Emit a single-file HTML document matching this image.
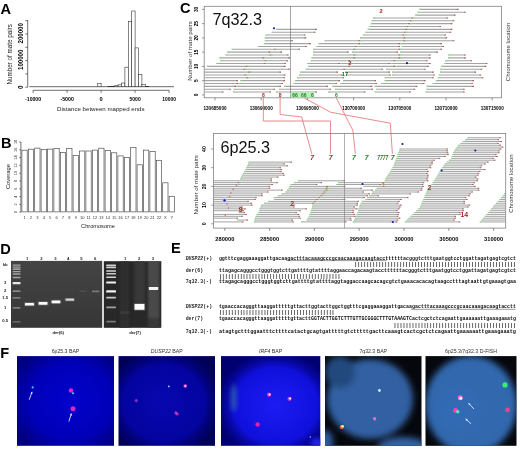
<!DOCTYPE html>
<html><head><meta charset="utf-8"><style>
html,body{margin:0;padding:0;background:#fff;width:520px;height:451px;overflow:hidden}
svg{display:block;filter:blur(0.3px)}
svg text{font-family:"Liberation Sans", sans-serif}
</style></head><body>
<svg width="520" height="451" viewBox="0 0 520 451">
<defs><filter id="b1" x="-50%" y="-50%" width="200%" height="200%"><feGaussianBlur stdDeviation="0.7"/></filter>
<filter id="b2" x="-50%" y="-50%" width="200%" height="200%"><feGaussianBlur stdDeviation="3.2"/></filter>
<filter id="b3" x="-50%" y="-50%" width="200%" height="200%"><feGaussianBlur stdDeviation="2"/></filter>
<radialGradient id="g1" cx="0.55" cy="0.5" r="0.65"><stop offset="0" stop-color="#0202cc"/><stop offset="0.65" stop-color="#0000b8"/><stop offset="1" stop-color="#00007c"/></radialGradient>
<radialGradient id="g2" cx="0.47" cy="0.52" r="0.6"><stop offset="0" stop-color="#0707b0"/><stop offset="0.7" stop-color="#0404a0"/><stop offset="0.8" stop-color="#020282"/><stop offset="1" stop-color="#000058"/></radialGradient>
<radialGradient id="g3" cx="0.55" cy="0.55" r="0.6"><stop offset="0" stop-color="#1c1cf4"/><stop offset="0.7" stop-color="#1010dc"/><stop offset="0.85" stop-color="#06069c"/><stop offset="1" stop-color="#000070"/></radialGradient></defs>
<rect width="520" height="451" fill="#fff"/>
<text x="0.50" y="13.80" font-size="14.6" text-anchor="start" font-weight="bold" font-style="normal" fill="#000" font-family='"Liberation Sans", sans-serif'>A</text>
<line x1="27.70" y1="20.00" x2="27.70" y2="87.20" stroke="#333" stroke-width="0.7"/>
<line x1="25.30" y1="87.20" x2="27.70" y2="87.20" stroke="#333" stroke-width="0.7"/>
<line x1="25.30" y1="73.90" x2="27.70" y2="73.90" stroke="#333" stroke-width="0.7"/>
<line x1="25.30" y1="60.60" x2="27.70" y2="60.60" stroke="#333" stroke-width="0.7"/>
<line x1="25.30" y1="47.30" x2="27.70" y2="47.30" stroke="#333" stroke-width="0.7"/>
<line x1="25.30" y1="34.00" x2="27.70" y2="34.00" stroke="#333" stroke-width="0.7"/>
<line x1="25.30" y1="20.70" x2="27.70" y2="20.70" stroke="#333" stroke-width="0.7"/>
<text transform="translate(22.60,87.20) rotate(-90)" font-size="6.3" text-anchor="middle" font-weight="bold" font-style="normal" fill="#000" font-family='"Liberation Sans", sans-serif'>0</text>
<text transform="translate(22.60,59.80) rotate(-90)" font-size="6.3" text-anchor="middle" font-weight="bold" font-style="normal" fill="#000" textLength="20.3" lengthAdjust="spacingAndGlyphs" font-family='"Liberation Sans", sans-serif'>100000</text>
<text transform="translate(22.60,33.30) rotate(-90)" font-size="6.3" text-anchor="middle" font-weight="bold" font-style="normal" fill="#000" textLength="20.3" lengthAdjust="spacingAndGlyphs" font-family='"Liberation Sans", sans-serif'>200000</text>
<text transform="translate(12.20,54.30) rotate(-90)" font-size="6.3" text-anchor="middle" font-weight="normal" font-style="normal" fill="#222" font-family='"Liberation Sans", sans-serif'>Number of mate pairs</text>
<line x1="29.40" y1="86.70" x2="174.00" y2="86.70" stroke="#444" stroke-width="0.8"/>
<rect x="97.70" y="83.60" width="3.40" height="3.10" fill="#fff" stroke="#333" stroke-width="0.6"/>
<rect x="101.10" y="86.80" width="3.40" height="-0.10" fill="#fff" stroke="#333" stroke-width="0.6"/>
<rect x="104.50" y="86.70" width="3.40" height="0.00" fill="#fff" stroke="#333" stroke-width="0.6"/>
<rect x="107.90" y="86.50" width="3.40" height="0.20" fill="#fff" stroke="#333" stroke-width="0.6"/>
<rect x="111.30" y="86.20" width="3.40" height="0.50" fill="#fff" stroke="#333" stroke-width="0.6"/>
<rect x="114.70" y="85.70" width="3.40" height="1.00" fill="#fff" stroke="#333" stroke-width="0.6"/>
<rect x="118.10" y="84.80" width="3.40" height="1.90" fill="#fff" stroke="#333" stroke-width="0.6"/>
<rect x="121.50" y="83.00" width="3.40" height="3.70" fill="#fff" stroke="#333" stroke-width="0.6"/>
<rect x="124.90" y="67.20" width="3.40" height="19.50" fill="#fff" stroke="#333" stroke-width="0.6"/>
<rect x="128.30" y="21.40" width="3.40" height="65.30" fill="#fff" stroke="#333" stroke-width="0.6"/>
<rect x="131.70" y="11.00" width="3.40" height="75.70" fill="#fff" stroke="#333" stroke-width="0.6"/>
<rect x="135.10" y="47.90" width="3.40" height="38.80" fill="#fff" stroke="#333" stroke-width="0.6"/>
<rect x="138.50" y="74.40" width="3.40" height="12.30" fill="#fff" stroke="#333" stroke-width="0.6"/>
<rect x="141.90" y="84.40" width="3.40" height="2.30" fill="#fff" stroke="#333" stroke-width="0.6"/>
<rect x="145.30" y="86.40" width="3.40" height="0.30" fill="#fff" stroke="#333" stroke-width="0.6"/>
<line x1="33.10" y1="90.30" x2="169.10" y2="90.30" stroke="#333" stroke-width="0.7"/>
<line x1="33.10" y1="90.30" x2="33.10" y2="92.80" stroke="#333" stroke-width="0.7"/>
<text x="33.10" y="101.40" font-size="5.7" text-anchor="middle" font-weight="bold" font-style="normal" fill="#000" textLength="16.0" lengthAdjust="spacingAndGlyphs" font-family='"Liberation Sans", sans-serif'>-10000</text>
<line x1="67.10" y1="90.30" x2="67.10" y2="92.80" stroke="#333" stroke-width="0.7"/>
<text x="67.10" y="101.40" font-size="5.7" text-anchor="middle" font-weight="bold" font-style="normal" fill="#000" textLength="13.4" lengthAdjust="spacingAndGlyphs" font-family='"Liberation Sans", sans-serif'>-5000</text>
<line x1="101.10" y1="90.30" x2="101.10" y2="92.80" stroke="#333" stroke-width="0.7"/>
<text x="101.10" y="101.40" font-size="5.7" text-anchor="middle" font-weight="bold" font-style="normal" fill="#000" font-family='"Liberation Sans", sans-serif'>0</text>
<line x1="135.10" y1="90.30" x2="135.10" y2="92.80" stroke="#333" stroke-width="0.7"/>
<text x="135.10" y="101.40" font-size="5.7" text-anchor="middle" font-weight="bold" font-style="normal" fill="#000" textLength="11.2" lengthAdjust="spacingAndGlyphs" font-family='"Liberation Sans", sans-serif'>5000</text>
<line x1="169.10" y1="90.30" x2="169.10" y2="92.80" stroke="#333" stroke-width="0.7"/>
<text x="169.10" y="101.40" font-size="5.7" text-anchor="middle" font-weight="bold" font-style="normal" fill="#000" textLength="13.6" lengthAdjust="spacingAndGlyphs" font-family='"Liberation Sans", sans-serif'>10000</text>
<text x="100.80" y="110.90" font-size="6.13" text-anchor="middle" font-weight="normal" font-style="normal" fill="#222" font-family='"Liberation Sans", sans-serif'>Distance between mapped ends</text>
<text x="0.90" y="147.80" font-size="14.6" text-anchor="start" font-weight="bold" font-style="normal" fill="#000" font-family='"Liberation Sans", sans-serif'>B</text>
<line x1="20.90" y1="142.00" x2="20.90" y2="212.20" stroke="#333" stroke-width="0.7"/>
<line x1="19.20" y1="212.20" x2="20.90" y2="212.20" stroke="#333" stroke-width="0.6"/>
<text transform="translate(17.30,212.20) rotate(-90)" font-size="3.8" text-anchor="middle" font-weight="normal" font-style="normal" fill="#333" font-family='"Liberation Sans", sans-serif'>0</text>
<line x1="19.20" y1="204.40" x2="20.90" y2="204.40" stroke="#333" stroke-width="0.6"/>
<text transform="translate(17.30,204.40) rotate(-90)" font-size="3.8" text-anchor="middle" font-weight="normal" font-style="normal" fill="#333" font-family='"Liberation Sans", sans-serif'>2</text>
<line x1="19.20" y1="196.60" x2="20.90" y2="196.60" stroke="#333" stroke-width="0.6"/>
<text transform="translate(17.30,196.60) rotate(-90)" font-size="3.8" text-anchor="middle" font-weight="normal" font-style="normal" fill="#333" font-family='"Liberation Sans", sans-serif'>4</text>
<line x1="19.20" y1="188.80" x2="20.90" y2="188.80" stroke="#333" stroke-width="0.6"/>
<text transform="translate(17.30,188.80) rotate(-90)" font-size="3.8" text-anchor="middle" font-weight="normal" font-style="normal" fill="#333" font-family='"Liberation Sans", sans-serif'>6</text>
<line x1="19.20" y1="181.00" x2="20.90" y2="181.00" stroke="#333" stroke-width="0.6"/>
<text transform="translate(17.30,181.00) rotate(-90)" font-size="3.8" text-anchor="middle" font-weight="normal" font-style="normal" fill="#333" font-family='"Liberation Sans", sans-serif'>8</text>
<line x1="19.20" y1="173.20" x2="20.90" y2="173.20" stroke="#333" stroke-width="0.6"/>
<text transform="translate(17.30,173.20) rotate(-90)" font-size="3.8" text-anchor="middle" font-weight="normal" font-style="normal" fill="#333" font-family='"Liberation Sans", sans-serif'>10</text>
<line x1="19.20" y1="165.40" x2="20.90" y2="165.40" stroke="#333" stroke-width="0.6"/>
<text transform="translate(17.30,165.40) rotate(-90)" font-size="3.8" text-anchor="middle" font-weight="normal" font-style="normal" fill="#333" font-family='"Liberation Sans", sans-serif'>12</text>
<line x1="19.20" y1="157.60" x2="20.90" y2="157.60" stroke="#333" stroke-width="0.6"/>
<text transform="translate(17.30,157.60) rotate(-90)" font-size="3.8" text-anchor="middle" font-weight="normal" font-style="normal" fill="#333" font-family='"Liberation Sans", sans-serif'>14</text>
<line x1="19.20" y1="149.80" x2="20.90" y2="149.80" stroke="#333" stroke-width="0.6"/>
<text transform="translate(17.30,149.80) rotate(-90)" font-size="3.8" text-anchor="middle" font-weight="normal" font-style="normal" fill="#333" font-family='"Liberation Sans", sans-serif'>16</text>
<line x1="19.20" y1="142.00" x2="20.90" y2="142.00" stroke="#333" stroke-width="0.6"/>
<text transform="translate(17.30,142.00) rotate(-90)" font-size="3.8" text-anchor="middle" font-weight="normal" font-style="normal" fill="#333" font-family='"Liberation Sans", sans-serif'>18</text>
<text transform="translate(9.60,176.60) rotate(-90)" font-size="5.77" text-anchor="middle" font-weight="normal" font-style="normal" fill="#222" font-family='"Liberation Sans", sans-serif'>Coverage</text>
<rect x="21.90" y="150.20" width="5.30" height="61.70" fill="#fff" stroke="#444" stroke-width="0.65"/>
<text x="24.55" y="219.40" font-size="4.0" text-anchor="middle" font-weight="normal" font-style="normal" fill="#333" font-family='"Liberation Sans", sans-serif'>1</text>
<rect x="28.30" y="149.20" width="5.30" height="62.70" fill="#fff" stroke="#444" stroke-width="0.65"/>
<text x="30.95" y="219.40" font-size="4.0" text-anchor="middle" font-weight="normal" font-style="normal" fill="#333" font-family='"Liberation Sans", sans-serif'>2</text>
<rect x="34.70" y="148.10" width="5.30" height="63.80" fill="#fff" stroke="#444" stroke-width="0.65"/>
<text x="37.35" y="219.40" font-size="4.0" text-anchor="middle" font-weight="normal" font-style="normal" fill="#333" font-family='"Liberation Sans", sans-serif'>3</text>
<rect x="41.10" y="149.40" width="5.30" height="62.50" fill="#fff" stroke="#444" stroke-width="0.65"/>
<text x="43.75" y="219.40" font-size="4.0" text-anchor="middle" font-weight="normal" font-style="normal" fill="#333" font-family='"Liberation Sans", sans-serif'>4</text>
<rect x="47.50" y="149.10" width="5.30" height="62.80" fill="#fff" stroke="#444" stroke-width="0.65"/>
<text x="50.15" y="219.40" font-size="4.0" text-anchor="middle" font-weight="normal" font-style="normal" fill="#333" font-family='"Liberation Sans", sans-serif'>5</text>
<rect x="53.90" y="148.50" width="5.30" height="63.40" fill="#fff" stroke="#444" stroke-width="0.65"/>
<text x="56.55" y="219.40" font-size="4.0" text-anchor="middle" font-weight="normal" font-style="normal" fill="#333" font-family='"Liberation Sans", sans-serif'>6</text>
<rect x="60.30" y="152.50" width="5.30" height="59.40" fill="#fff" stroke="#444" stroke-width="0.65"/>
<text x="62.95" y="219.40" font-size="4.0" text-anchor="middle" font-weight="normal" font-style="normal" fill="#333" font-family='"Liberation Sans", sans-serif'>7</text>
<rect x="66.70" y="148.50" width="5.30" height="63.40" fill="#fff" stroke="#444" stroke-width="0.65"/>
<text x="69.35" y="219.40" font-size="4.0" text-anchor="middle" font-weight="normal" font-style="normal" fill="#333" font-family='"Liberation Sans", sans-serif'>8</text>
<rect x="73.10" y="155.40" width="5.30" height="56.50" fill="#fff" stroke="#444" stroke-width="0.65"/>
<text x="75.75" y="219.40" font-size="4.0" text-anchor="middle" font-weight="normal" font-style="normal" fill="#333" font-family='"Liberation Sans", sans-serif'>9</text>
<rect x="79.50" y="151.00" width="5.30" height="60.90" fill="#fff" stroke="#444" stroke-width="0.65"/>
<text x="82.15" y="219.40" font-size="4.0" text-anchor="middle" font-weight="normal" font-style="normal" fill="#333" font-family='"Liberation Sans", sans-serif'>10</text>
<rect x="85.90" y="151.00" width="5.30" height="60.90" fill="#fff" stroke="#444" stroke-width="0.65"/>
<text x="88.55" y="219.40" font-size="4.0" text-anchor="middle" font-weight="normal" font-style="normal" fill="#333" font-family='"Liberation Sans", sans-serif'>11</text>
<rect x="92.30" y="150.10" width="5.30" height="61.80" fill="#fff" stroke="#444" stroke-width="0.65"/>
<text x="94.95" y="219.40" font-size="4.0" text-anchor="middle" font-weight="normal" font-style="normal" fill="#333" font-family='"Liberation Sans", sans-serif'>12</text>
<rect x="98.70" y="148.20" width="5.30" height="63.70" fill="#fff" stroke="#444" stroke-width="0.65"/>
<text x="101.35" y="219.40" font-size="4.0" text-anchor="middle" font-weight="normal" font-style="normal" fill="#333" font-family='"Liberation Sans", sans-serif'>13</text>
<rect x="105.10" y="150.40" width="5.30" height="61.50" fill="#fff" stroke="#444" stroke-width="0.65"/>
<text x="107.75" y="219.40" font-size="4.0" text-anchor="middle" font-weight="normal" font-style="normal" fill="#333" font-family='"Liberation Sans", sans-serif'>14</text>
<rect x="111.50" y="152.80" width="5.30" height="59.10" fill="#fff" stroke="#444" stroke-width="0.65"/>
<text x="114.15" y="219.40" font-size="4.0" text-anchor="middle" font-weight="normal" font-style="normal" fill="#333" font-family='"Liberation Sans", sans-serif'>15</text>
<rect x="117.90" y="155.90" width="5.30" height="56.00" fill="#fff" stroke="#444" stroke-width="0.65"/>
<text x="120.55" y="219.40" font-size="4.0" text-anchor="middle" font-weight="normal" font-style="normal" fill="#333" font-family='"Liberation Sans", sans-serif'>16</text>
<rect x="124.30" y="157.40" width="5.30" height="54.50" fill="#fff" stroke="#444" stroke-width="0.65"/>
<text x="126.95" y="219.40" font-size="4.0" text-anchor="middle" font-weight="normal" font-style="normal" fill="#333" font-family='"Liberation Sans", sans-serif'>17</text>
<rect x="130.70" y="147.40" width="5.30" height="64.50" fill="#fff" stroke="#444" stroke-width="0.65"/>
<text x="133.35" y="219.40" font-size="4.0" text-anchor="middle" font-weight="normal" font-style="normal" fill="#333" font-family='"Liberation Sans", sans-serif'>18</text>
<rect x="137.10" y="164.80" width="5.30" height="47.10" fill="#fff" stroke="#444" stroke-width="0.65"/>
<text x="139.75" y="219.40" font-size="4.0" text-anchor="middle" font-weight="normal" font-style="normal" fill="#333" font-family='"Liberation Sans", sans-serif'>19</text>
<rect x="143.50" y="150.10" width="5.30" height="61.80" fill="#fff" stroke="#444" stroke-width="0.65"/>
<text x="146.15" y="219.40" font-size="4.0" text-anchor="middle" font-weight="normal" font-style="normal" fill="#333" font-family='"Liberation Sans", sans-serif'>20</text>
<rect x="149.90" y="151.60" width="5.30" height="60.30" fill="#fff" stroke="#444" stroke-width="0.65"/>
<text x="152.55" y="219.40" font-size="4.0" text-anchor="middle" font-weight="normal" font-style="normal" fill="#333" font-family='"Liberation Sans", sans-serif'>21</text>
<rect x="156.30" y="160.30" width="5.30" height="51.60" fill="#fff" stroke="#444" stroke-width="0.65"/>
<text x="158.95" y="219.40" font-size="4.0" text-anchor="middle" font-weight="normal" font-style="normal" fill="#333" font-family='"Liberation Sans", sans-serif'>22</text>
<rect x="162.70" y="182.80" width="5.30" height="29.10" fill="#fff" stroke="#444" stroke-width="0.65"/>
<text x="165.35" y="219.40" font-size="4.0" text-anchor="middle" font-weight="normal" font-style="normal" fill="#333" font-family='"Liberation Sans", sans-serif'>X</text>
<rect x="169.10" y="196.30" width="5.30" height="15.60" fill="#fff" stroke="#444" stroke-width="0.65"/>
<text x="171.75" y="219.40" font-size="4.0" text-anchor="middle" font-weight="normal" font-style="normal" fill="#333" font-family='"Liberation Sans", sans-serif'>Y</text>
<text x="98.00" y="227.80" font-size="5.65" text-anchor="middle" font-weight="normal" font-style="normal" fill="#222" font-family='"Liberation Sans", sans-serif'>Chromosome</text>
<path d="M205.0 92.05H223.5M233.0 92.05H271.0M276.0 92.05H317.0M328.0 92.05H365.4M374.6 92.05H410.8M425.5 92.05H464.6M204.6 89.20H230.7M233.6 89.20H275.0M279.0 89.20H331.0M335.0 89.20H373.0M376.0 89.20H415.2M426.5 89.20H464.6M204.6 86.35H236.0M236.0 86.35H281.0M284.0 86.35H328.0M332.4 86.35H372.3M374.6 86.35H417.2M426.5 86.35H473.9M204.6 83.50H238.0M238.0 83.50H283.0M293.4 83.50H337.0M340.0 83.50H377.0M380.8 83.50H424.4M432.7 83.50H472.9M204.6 80.65H238.0M240.0 80.65H285.0M294.9 80.65H340.0M343.0 80.65H376.0M384.6 80.65H425.5M435.8 80.65H473.9M204.6 77.80H248.0M248.0 77.80H285.0M297.0 77.80H344.0M384.6 77.80H433.7M437.8 77.80H483.2M204.6 74.95H246.0M246.0 74.95H285.5M299.0 74.95H342.5M346.0 74.95H390.8M392.0 74.95H434.7M438.9 74.95H481.1M204.6 72.10H250.0M250.0 72.10H281.0M300.0 72.10H338.0M345.0 72.10H390.0M392.0 72.10H433.7M440.0 72.10H476.0M204.6 69.25H245.0M245.0 69.25H289.8M305.7 69.25H345.0M345.0 69.25H383.0M386.0 69.25H425.5M440.0 69.25H482.2M207.0 66.40H247.3M247.3 66.40H285.5M308.0 66.40H350.0M350.0 66.40H395.0M395.0 66.40H428.6M441.0 66.40H486.3M216.0 63.55H265.5M265.5 63.55H286.0M307.0 63.55H340.0M340.0 63.55H390.0M390.0 63.55H430.6M444.0 63.55H487.3M220.0 60.70H266.3M266.3 60.70H288.0M310.8 60.70H350.0M350.0 60.70H395.0M395.0 60.70H427.5M445.0 60.70H471.9M219.4 57.85H264.0M264.0 57.85H290.0M311.5 57.85H355.0M355.0 57.85H400.0M400.0 57.85H430.6M448.1 57.85H465.7M225.5 55.00H271.0M271.0 55.00H288.5M313.0 55.00H355.0M355.0 55.00H400.0M400.0 55.00H430.6M448.1 55.00H465.7M227.0 52.15H270.0M270.0 52.15H282.0M313.0 52.15H348.5M352.0 52.15H398.0M400.0 52.15H437.8M231.7 49.30H275.5M275.5 49.30H300.0M313.0 49.30H355.0M355.0 49.30H400.0M400.0 49.30H442.0M257.8 46.45H306.9M316.0 46.45H357.0M357.0 46.45H400.0M401.5 46.45H444.0M264.0 43.60H310.8M318.5 43.60H360.0M360.0 43.60H400.0M400.0 43.60H442.0M264.8 40.75H293.0M324.6 40.75H360.0M360.0 40.75H405.0M405.0 40.75H454.3M264.8 37.90H306.2M360.0 37.90H405.0M405.0 37.90H447.1M265.5 35.05H305.4M363.0 35.05H404.1M404.1 35.05H446.0M271.7 32.20H315.4M365.4 32.20H405.5M405.5 32.20H451.2M276.0 29.35H316.9M367.7 29.35H407.0M407.0 29.35H452.3M369.2 26.50H408.4M408.4 26.50H441.0M370.8 23.65H409.9M409.9 23.65H452.3M371.5 20.80H411.3M411.3 20.80H454.3M373.0 17.95H412.8M412.8 17.95H448.1M415.2 15.10H455.4M417.2 12.25H465.7M419.3 9.40H458.5" stroke="#a4a4a4" stroke-width="1.1" fill="none"/>
<path d="M233.0 92.05h1.8M276.0 92.05h1.8M328.0 92.05h1.8M374.6 92.05h1.8M425.5 92.05h1.8M233.6 89.20h1.8M279.0 89.20h1.8M335.0 89.20h1.8M376.0 89.20h1.8M426.5 89.20h1.8M236.0 86.35h1.8M284.0 86.35h1.8M332.4 86.35h1.8M374.6 86.35h1.8M426.5 86.35h1.8M238.0 83.50h1.8M293.4 83.50h1.8M340.0 83.50h1.8M380.8 83.50h1.8M432.7 83.50h1.8M240.0 80.65h1.8M294.9 80.65h1.8M343.0 80.65h1.8M384.6 80.65h1.8M435.8 80.65h1.8M248.0 77.80h1.8M297.0 77.80h1.8M384.6 77.80h1.8M437.8 77.80h1.8M246.0 74.95h1.8M299.0 74.95h1.8M346.0 74.95h1.8M392.0 74.95h1.8M438.9 74.95h1.8M250.0 72.10h1.8M300.0 72.10h1.8M345.0 72.10h1.8M392.0 72.10h1.8M440.0 72.10h1.8M245.0 69.25h1.8M305.7 69.25h1.8M345.0 69.25h1.8M386.0 69.25h1.8M440.0 69.25h1.8M207.0 66.40h1.8M247.3 66.40h1.8M308.0 66.40h1.8M350.0 66.40h1.8M395.0 66.40h1.8M441.0 66.40h1.8M216.0 63.55h1.8M265.5 63.55h1.8M307.0 63.55h1.8M340.0 63.55h1.8M390.0 63.55h1.8M444.0 63.55h1.8M220.0 60.70h1.8M266.3 60.70h1.8M310.8 60.70h1.8M350.0 60.70h1.8M395.0 60.70h1.8M445.0 60.70h1.8M219.4 57.85h1.8M264.0 57.85h1.8M311.5 57.85h1.8M355.0 57.85h1.8M400.0 57.85h1.8M448.1 57.85h1.8M225.5 55.00h1.8M271.0 55.00h1.8M313.0 55.00h1.8M355.0 55.00h1.8M400.0 55.00h1.8M448.1 55.00h1.8M227.0 52.15h1.8M270.0 52.15h1.8M313.0 52.15h1.8M352.0 52.15h1.8M400.0 52.15h1.8M231.7 49.30h1.8M275.5 49.30h1.8M313.0 49.30h1.8M355.0 49.30h1.8M400.0 49.30h1.8M257.8 46.45h1.8M316.0 46.45h1.8M357.0 46.45h1.8M401.5 46.45h1.8M264.0 43.60h1.8M318.5 43.60h1.8M360.0 43.60h1.8M400.0 43.60h1.8M264.8 40.75h1.8M324.6 40.75h1.8M360.0 40.75h1.8M405.0 40.75h1.8M264.8 37.90h1.8M360.0 37.90h1.8M405.0 37.90h1.8M265.5 35.05h1.8M363.0 35.05h1.8M404.1 35.05h1.8M271.7 32.20h1.8M365.4 32.20h1.8M405.5 32.20h1.8M276.0 29.35h1.8M367.7 29.35h1.8M407.0 29.35h1.8M369.2 26.50h1.8M408.4 26.50h1.8M370.8 23.65h1.8M409.9 23.65h1.8M371.5 20.80h1.8M411.3 20.80h1.8M373.0 17.95h1.8M412.8 17.95h1.8M415.2 15.10h1.8M417.2 12.25h1.8M419.3 9.40h1.8" stroke="#90e090" stroke-width="1.1" fill="none" opacity="0.75"/>
<path d="M221.9 92.05h1.6M269.4 92.05h1.6M315.4 92.05h1.6M363.8 92.05h1.6M409.2 92.05h1.6M463.0 92.05h1.6M229.1 89.20h1.6M273.4 89.20h1.6M329.4 89.20h1.6M371.4 89.20h1.6M413.6 89.20h1.6M463.0 89.20h1.6M234.4 86.35h1.6M279.4 86.35h1.6M326.4 86.35h1.6M370.7 86.35h1.6M415.6 86.35h1.6M472.3 86.35h1.6M236.4 83.50h1.6M281.4 83.50h1.6M335.4 83.50h1.6M375.4 83.50h1.6M422.8 83.50h1.6M471.3 83.50h1.6M236.4 80.65h1.6M283.4 80.65h1.6M338.4 80.65h1.6M374.4 80.65h1.6M423.9 80.65h1.6M472.3 80.65h1.6M246.4 77.80h1.6M283.4 77.80h1.6M342.4 77.80h1.6M432.1 77.80h1.6M481.6 77.80h1.6M244.4 74.95h1.6M283.9 74.95h1.6M340.9 74.95h1.6M389.2 74.95h1.6M433.1 74.95h1.6M479.5 74.95h1.6M248.4 72.10h1.6M279.4 72.10h1.6M336.4 72.10h1.6M388.4 72.10h1.6M432.1 72.10h1.6M474.4 72.10h1.6M243.4 69.25h1.6M288.2 69.25h1.6M343.4 69.25h1.6M381.4 69.25h1.6M423.9 69.25h1.6M480.6 69.25h1.6M245.7 66.40h1.6M283.9 66.40h1.6M348.4 66.40h1.6M393.4 66.40h1.6M427.0 66.40h1.6M484.7 66.40h1.6M263.9 63.55h1.6M284.4 63.55h1.6M338.4 63.55h1.6M388.4 63.55h1.6M429.0 63.55h1.6M485.7 63.55h1.6M264.7 60.70h1.6M286.4 60.70h1.6M348.4 60.70h1.6M393.4 60.70h1.6M425.9 60.70h1.6M470.3 60.70h1.6M262.4 57.85h1.6M288.4 57.85h1.6M353.4 57.85h1.6M398.4 57.85h1.6M429.0 57.85h1.6M464.1 57.85h1.6M269.4 55.00h1.6M286.9 55.00h1.6M353.4 55.00h1.6M398.4 55.00h1.6M429.0 55.00h1.6M464.1 55.00h1.6M268.4 52.15h1.6M280.4 52.15h1.6M346.9 52.15h1.6M396.4 52.15h1.6M436.2 52.15h1.6M273.9 49.30h1.6M298.4 49.30h1.6M353.4 49.30h1.6M398.4 49.30h1.6M440.4 49.30h1.6M305.3 46.45h1.6M355.4 46.45h1.6M398.4 46.45h1.6M442.4 46.45h1.6M309.2 43.60h1.6M358.4 43.60h1.6M398.4 43.60h1.6M440.4 43.60h1.6M291.4 40.75h1.6M358.4 40.75h1.6M403.4 40.75h1.6M452.7 40.75h1.6M304.6 37.90h1.6M403.4 37.90h1.6M445.5 37.90h1.6M303.8 35.05h1.6M402.5 35.05h1.6M444.4 35.05h1.6M313.8 32.20h1.6M403.9 32.20h1.6M449.6 32.20h1.6M315.3 29.35h1.6M405.4 29.35h1.6M450.7 29.35h1.6M406.8 26.50h1.6M439.4 26.50h1.6M408.3 23.65h1.6M450.7 23.65h1.6M409.7 20.80h1.6M452.7 20.80h1.6M411.2 17.95h1.6M446.5 17.95h1.6M453.8 15.10h1.6M464.1 12.25h1.6M456.9 9.40h1.6" stroke="#a83030" stroke-width="1.1" fill="none" opacity="0.6"/>
<rect x="204.20" y="6.30" width="297.40" height="91.50" fill="none" stroke="#808080" stroke-width="0.8"/>
<line x1="290.50" y1="6.30" x2="290.50" y2="97.80" stroke="#6a6a6a" stroke-width="0.6"/>
<line x1="202.00" y1="94.90" x2="204.20" y2="94.90" stroke="#555" stroke-width="0.6"/>
<text transform="translate(197.50,94.90) rotate(-90)" font-size="4.8" text-anchor="middle" font-weight="bold" font-style="normal" fill="#000">0</text>
<line x1="202.00" y1="80.65" x2="204.20" y2="80.65" stroke="#555" stroke-width="0.6"/>
<text transform="translate(197.50,80.65) rotate(-90)" font-size="4.8" text-anchor="middle" font-weight="bold" font-style="normal" fill="#000">5</text>
<line x1="202.00" y1="66.40" x2="204.20" y2="66.40" stroke="#555" stroke-width="0.6"/>
<text transform="translate(197.50,66.40) rotate(-90)" font-size="4.8" text-anchor="middle" font-weight="bold" font-style="normal" fill="#000">10</text>
<line x1="202.00" y1="52.15" x2="204.20" y2="52.15" stroke="#555" stroke-width="0.6"/>
<text transform="translate(197.50,52.15) rotate(-90)" font-size="4.8" text-anchor="middle" font-weight="bold" font-style="normal" fill="#000">15</text>
<line x1="202.00" y1="37.90" x2="204.20" y2="37.90" stroke="#555" stroke-width="0.6"/>
<text transform="translate(197.50,37.90) rotate(-90)" font-size="4.8" text-anchor="middle" font-weight="bold" font-style="normal" fill="#000">20</text>
<line x1="202.00" y1="23.65" x2="204.20" y2="23.65" stroke="#555" stroke-width="0.6"/>
<text transform="translate(197.50,23.65) rotate(-90)" font-size="4.8" text-anchor="middle" font-weight="bold" font-style="normal" fill="#000">25</text>
<line x1="202.00" y1="9.40" x2="204.20" y2="9.40" stroke="#555" stroke-width="0.6"/>
<text transform="translate(197.50,9.40) rotate(-90)" font-size="4.8" text-anchor="middle" font-weight="bold" font-style="normal" fill="#000">30</text>
<text transform="translate(191.70,51.00) rotate(-90)" font-size="6.2" text-anchor="middle" font-weight="normal" font-style="normal" fill="#333">Number of mate pairs</text>
<line x1="215.00" y1="97.80" x2="215.00" y2="100.40" stroke="#555" stroke-width="0.6"/>
<text x="215.00" y="110.30" font-size="6.2" text-anchor="middle" font-weight="bold" font-style="normal" fill="#000" textLength="23" lengthAdjust="spacingAndGlyphs">130685000</text>
<line x1="261.20" y1="97.80" x2="261.20" y2="100.40" stroke="#555" stroke-width="0.6"/>
<text x="261.20" y="110.30" font-size="6.2" text-anchor="middle" font-weight="bold" font-style="normal" fill="#000" textLength="23" lengthAdjust="spacingAndGlyphs">130690000</text>
<line x1="307.40" y1="97.80" x2="307.40" y2="100.40" stroke="#555" stroke-width="0.6"/>
<text x="307.40" y="110.30" font-size="6.2" text-anchor="middle" font-weight="bold" font-style="normal" fill="#000" textLength="23" lengthAdjust="spacingAndGlyphs">130695000</text>
<line x1="353.60" y1="97.80" x2="353.60" y2="100.40" stroke="#555" stroke-width="0.6"/>
<text x="353.60" y="110.30" font-size="6.2" text-anchor="middle" font-weight="bold" font-style="normal" fill="#000" textLength="23" lengthAdjust="spacingAndGlyphs">130700000</text>
<line x1="399.80" y1="97.80" x2="399.80" y2="100.40" stroke="#555" stroke-width="0.6"/>
<text x="399.80" y="110.30" font-size="6.2" text-anchor="middle" font-weight="bold" font-style="normal" fill="#000" textLength="23" lengthAdjust="spacingAndGlyphs">130705000</text>
<line x1="446.00" y1="97.80" x2="446.00" y2="100.40" stroke="#555" stroke-width="0.6"/>
<text x="446.00" y="110.30" font-size="6.2" text-anchor="middle" font-weight="bold" font-style="normal" fill="#000" textLength="23" lengthAdjust="spacingAndGlyphs">130710000</text>
<line x1="492.20" y1="97.80" x2="492.20" y2="100.40" stroke="#555" stroke-width="0.6"/>
<text x="492.20" y="110.30" font-size="6.2" text-anchor="middle" font-weight="bold" font-style="normal" fill="#000" textLength="23" lengthAdjust="spacingAndGlyphs">130715000</text>
<text transform="translate(509.80,52.00) rotate(-90)" font-size="6.0" text-anchor="middle" font-weight="normal" font-style="normal" fill="#333">Chromosome location</text>
<text x="212.40" y="25.20" font-size="16.2" text-anchor="start" font-weight="normal" font-style="normal" fill="#111">7q32.3</text>
<text x="179.90" y="12.80" font-size="14.6" text-anchor="start" font-weight="bold" font-style="normal" fill="#000">C</text>
<circle cx="274.0" cy="28.3" r="1.1" fill="#1a1aa0"/>
<circle cx="407.0" cy="63.2" r="1.1" fill="#1a1aa0"/>
<text x="381.20" y="12.80" font-size="5.8" text-anchor="middle" font-weight="bold" font-style="normal" fill="#a82424">2</text>
<text x="349.80" y="65.00" font-size="5.8" text-anchor="middle" font-weight="bold" font-style="normal" fill="#902a20">2</text>
<text x="345.00" y="76.00" font-size="5.8" text-anchor="middle" font-weight="bold" font-style="normal" fill="#1e6e1e">17</text>
<rect x="290.80" y="92.30" width="23.50" height="5.00" fill="#b8f0b8" stroke="none" stroke-width="1"/>
<text x="263.30" y="97.00" font-size="5.0" text-anchor="middle" font-weight="bold" font-style="normal" fill="#a82828">8</text>
<text x="280.10" y="97.00" font-size="5.0" text-anchor="middle" font-weight="bold" font-style="normal" fill="#a82828">8</text>
<text x="295.00" y="97.00" font-size="5.0" text-anchor="middle" font-weight="bold" font-style="normal" fill="#1e881e">66</text>
<text x="303.80" y="97.00" font-size="5.0" text-anchor="middle" font-weight="bold" font-style="normal" fill="#1e881e">66</text>
<text x="312.30" y="97.00" font-size="5.0" text-anchor="middle" font-weight="bold" font-style="normal" fill="#1e881e">6</text>
<text x="336.30" y="97.00" font-size="5.0" text-anchor="middle" font-weight="bold" font-style="normal" fill="#1e881e">6</text>
<path d="M263.3 97.5 L263.3 121 L330.5 121 L330.5 153.8" stroke="#e07070" stroke-width="0.8" fill="none"/>
<path d="M280.1 97.5 L280.1 114.5 L301.7 117 L311.8 153.8" stroke="#e07070" stroke-width="0.8" fill="none"/>
<path d="M304.3 98 L330.5 112.2 L390.3 123.2 L392.4 153.8" stroke="#e07070" stroke-width="0.8" fill="none"/>
<path d="M336.3 98 L352.8 130.2 L355.4 153.8" stroke="#e07070" stroke-width="0.8" fill="none"/>
<text x="312.10" y="159.60" font-size="6.8" text-anchor="middle" font-weight="bold" font-style="italic" fill="#b02424">7</text>
<text x="330.70" y="159.60" font-size="6.8" text-anchor="middle" font-weight="bold" font-style="italic" fill="#b02424">7</text>
<text x="354.00" y="159.60" font-size="6.8" text-anchor="middle" font-weight="bold" font-style="italic" fill="#1e881e">7</text>
<text x="366.60" y="159.60" font-size="6.8" text-anchor="middle" font-weight="bold" font-style="italic" fill="#1e881e">7</text>
<text x="392.70" y="159.60" font-size="6.8" text-anchor="middle" font-weight="bold" font-style="italic" fill="#1e881e">7</text>
<text x="382.80" y="159.60" font-size="6.8" text-anchor="middle" font-weight="bold" font-style="italic" fill="#1e881e" textLength="11" lengthAdjust="spacingAndGlyphs">7777</text>
<path d="M213.8 221.93H243.5M254.0 221.93H293.8M301.2 221.93H346.4M352.8 221.93H397.4M404.8 221.93H460.3M479.8 221.93H505.3M237.4 220.06H248.0M254.4 220.06H293.0M306.5 220.06H351.7M354.0 220.06H398.2M406.7 220.06H454.6M481.4 220.06H505.3M213.8 218.19H238.0M254.8 218.19H300.8M307.7 218.19H351.2M354.9 218.19H400.3M408.6 218.19H456.0M483.1 218.19H505.3M213.8 216.32H242.7M255.6 216.32H300.0M308.8 216.32H355.4M355.7 216.32H398.3M410.5 216.32H456.0M484.7 216.32H505.3M213.8 214.45H246.9M256.5 214.45H299.2M309.2 214.45H354.9M356.5 214.45H398.8M412.4 214.45H460.8M486.3 214.45H505.3M238.5 212.58H245.0M258.0 212.58H297.0M310.0 212.58H353.8M357.2 212.58H399.4M414.3 212.58H460.4M487.9 212.58H505.3M213.8 210.71H244.0M259.2 210.71H300.8M310.8 210.71H354.0M358.0 210.71H397.7M416.2 210.71H464.0M489.6 210.71H505.3M213.8 208.84H245.8M259.6 208.84H307.0M311.5 208.84H357.5M358.6 208.84H399.6M418.1 208.84H463.8M491.2 208.84H505.3M213.8 206.97H242.7M260.4 206.97H294.6M312.0 206.97H355.0M359.2 206.97H400.5M420.0 206.97H468.7M492.8 206.97H505.3M213.8 205.10H252.7M261.2 205.10H295.0M312.3 205.10H358.0M359.7 205.10H401.6M420.8 205.10H470.2M494.4 205.10H505.3M213.8 203.23H252.0M264.2 203.23H314.0M314.0 203.23H358.0M360.8 203.23H398.4M421.6 203.23H465.0M496.1 203.23H505.3M213.8 201.36H248.8M268.0 201.36H316.0M316.0 201.36H359.0M361.8 201.36H399.7M422.3 201.36H465.0M497.7 201.36H505.3M213.8 199.49H255.8M273.8 199.49H318.0M318.0 199.49H345.3M365.5 199.49H401.8M423.1 199.49H467.5M499.3 199.49H505.3M213.8 197.62H256.7M273.8 197.62H320.0M320.0 197.62H365.0M367.0 197.62H408.4M423.9 197.62H466.2M500.9 197.62H505.3M213.8 195.75H262.6M277.7 195.75H322.0M322.0 195.75H368.0M369.0 195.75H379.0M424.7 195.75H469.8M502.6 195.75H505.3M213.8 193.88H262.6M281.5 193.88H323.5M323.5 193.88H370.0M371.5 193.88H411.0M425.6 193.88H470.7M504.2 193.88H505.3M213.8 192.01H268.5M285.4 192.01H325.0M325.0 192.01H364.0M372.4 192.01H419.1M426.4 192.01H472.9M213.8 190.14H282.6M286.9 190.14H327.0M327.0 190.14H373.0M375.0 190.14H422.3M427.2 190.14H479.4M213.8 188.27H270.2M288.5 188.27H327.3M327.3 188.27H361.8M376.7 188.27H422.4M428.6 188.27H479.2M213.8 186.40H270.2M289.2 186.40H328.0M328.0 186.40H345.3M363.4 186.40H423.9M429.9 186.40H475.6M213.8 184.53H273.0M290.4 184.53H317.3M336.0 184.53H381.0M380.4 184.53H423.3M431.3 184.53H473.6M213.8 182.66H277.9M293.8 182.66H322.0M338.0 182.66H383.6M382.5 182.66H424.2M432.6 182.66H474.9M213.8 180.79H272.0M298.0 180.79H345.0M384.7 180.79H428.5M433.9 180.79H478.0M240.0 178.92H272.0M385.2 178.92H427.8M435.2 178.92H478.4M241.0 177.05H278.5M386.4 177.05H428.5M436.5 177.05H476.5M242.0 175.18H284.6M387.6 175.18H428.7M437.5 175.18H478.5M243.0 173.31H283.8M388.8 173.31H427.7M438.6 173.31H479.2M244.0 171.44H281.5M389.9 171.44H428.8M439.6 171.44H480.4M245.3 169.57H282.0M391.1 169.57H427.7M440.6 169.57H485.5M246.0 167.70H281.0M392.3 167.70H431.2M442.0 167.70H481.3M247.0 165.83H288.0M393.5 165.83H431.1M443.3 165.83H482.2M248.0 163.96H285.0M394.2 163.96H432.7M444.7 163.96H485.7M248.5 162.09H292.0M394.9 162.09H433.0M446.8 162.09H488.6M395.5 160.22H434.8M448.9 160.22H495.4M396.2 158.35H440.2M451.0 158.35H493.8M396.9 156.48H445.7M451.8 156.48H497.7M397.6 154.61H448.8M452.5 154.61H496.5M398.2 152.74H448.3M453.2 152.74H499.4M398.9 150.87H448.0M454.0 150.87H499.7M399.6 149.00H447.8M455.4 149.00H501.3M456.7 147.13H503.3M458.1 145.26H500.9M460.4 143.39H498.8M462.8 141.52H502.0M465.1 139.65H499.0M467.4 137.78H500.9" stroke="#a4a4a4" stroke-width="1.0" fill="none"/>
<path d="M254.0 221.93h1.8M301.2 221.93h1.8M352.8 221.93h1.8M404.8 221.93h1.8M479.8 221.93h1.8M237.4 220.06h1.8M254.4 220.06h1.8M306.5 220.06h1.8M354.0 220.06h1.8M406.7 220.06h1.8M481.4 220.06h1.8M254.8 218.19h1.8M307.7 218.19h1.8M354.9 218.19h1.8M408.6 218.19h1.8M483.1 218.19h1.8M255.6 216.32h1.8M308.8 216.32h1.8M355.7 216.32h1.8M410.5 216.32h1.8M484.7 216.32h1.8M256.5 214.45h1.8M309.2 214.45h1.8M356.5 214.45h1.8M412.4 214.45h1.8M486.3 214.45h1.8M238.5 212.58h1.8M258.0 212.58h1.8M310.0 212.58h1.8M357.2 212.58h1.8M414.3 212.58h1.8M487.9 212.58h1.8M259.2 210.71h1.8M310.8 210.71h1.8M358.0 210.71h1.8M416.2 210.71h1.8M489.6 210.71h1.8M259.6 208.84h1.8M311.5 208.84h1.8M358.6 208.84h1.8M418.1 208.84h1.8M491.2 208.84h1.8M260.4 206.97h1.8M312.0 206.97h1.8M359.2 206.97h1.8M420.0 206.97h1.8M492.8 206.97h1.8M261.2 205.10h1.8M312.3 205.10h1.8M359.7 205.10h1.8M420.8 205.10h1.8M494.4 205.10h1.8M264.2 203.23h1.8M314.0 203.23h1.8M360.8 203.23h1.8M421.6 203.23h1.8M496.1 203.23h1.8M268.0 201.36h1.8M316.0 201.36h1.8M361.8 201.36h1.8M422.3 201.36h1.8M497.7 201.36h1.8M273.8 199.49h1.8M318.0 199.49h1.8M365.5 199.49h1.8M423.1 199.49h1.8M499.3 199.49h1.8M273.8 197.62h1.8M320.0 197.62h1.8M367.0 197.62h1.8M423.9 197.62h1.8M500.9 197.62h1.8M277.7 195.75h1.8M322.0 195.75h1.8M369.0 195.75h1.8M424.7 195.75h1.8M502.6 195.75h1.8M281.5 193.88h1.8M323.5 193.88h1.8M371.5 193.88h1.8M425.6 193.88h1.8M504.2 193.88h1.8M285.4 192.01h1.8M325.0 192.01h1.8M372.4 192.01h1.8M426.4 192.01h1.8M286.9 190.14h1.8M327.0 190.14h1.8M375.0 190.14h1.8M427.2 190.14h1.8M288.5 188.27h1.8M327.3 188.27h1.8M376.7 188.27h1.8M428.6 188.27h1.8M289.2 186.40h1.8M328.0 186.40h1.8M363.4 186.40h1.8M429.9 186.40h1.8M290.4 184.53h1.8M336.0 184.53h1.8M380.4 184.53h1.8M431.3 184.53h1.8M293.8 182.66h1.8M338.0 182.66h1.8M382.5 182.66h1.8M432.6 182.66h1.8M298.0 180.79h1.8M384.7 180.79h1.8M433.9 180.79h1.8M240.0 178.92h1.8M385.2 178.92h1.8M435.2 178.92h1.8M241.0 177.05h1.8M386.4 177.05h1.8M436.5 177.05h1.8M242.0 175.18h1.8M387.6 175.18h1.8M437.5 175.18h1.8M243.0 173.31h1.8M388.8 173.31h1.8M438.6 173.31h1.8M244.0 171.44h1.8M389.9 171.44h1.8M439.6 171.44h1.8M245.3 169.57h1.8M391.1 169.57h1.8M440.6 169.57h1.8M246.0 167.70h1.8M392.3 167.70h1.8M442.0 167.70h1.8M247.0 165.83h1.8M393.5 165.83h1.8M443.3 165.83h1.8M248.0 163.96h1.8M394.2 163.96h1.8M444.7 163.96h1.8M248.5 162.09h1.8M394.9 162.09h1.8M446.8 162.09h1.8M395.5 160.22h1.8M448.9 160.22h1.8M396.2 158.35h1.8M451.0 158.35h1.8M396.9 156.48h1.8M451.8 156.48h1.8M397.6 154.61h1.8M452.5 154.61h1.8M398.2 152.74h1.8M453.2 152.74h1.8M398.9 150.87h1.8M454.0 150.87h1.8M399.6 149.00h1.8M455.4 149.00h1.8M456.7 147.13h1.8M458.1 145.26h1.8M460.4 143.39h1.8M462.8 141.52h1.8M465.1 139.65h1.8M467.4 137.78h1.8" stroke="#90e090" stroke-width="1.0" fill="none" opacity="0.75"/>
<path d="M241.9 221.93h1.6M292.2 221.93h1.6M344.8 221.93h1.6M395.8 221.93h1.6M458.7 221.93h1.6M246.4 220.06h1.6M291.4 220.06h1.6M350.1 220.06h1.6M396.6 220.06h1.6M453.0 220.06h1.6M236.4 218.19h1.6M299.2 218.19h1.6M349.6 218.19h1.6M398.7 218.19h1.6M454.4 218.19h1.6M241.1 216.32h1.6M298.4 216.32h1.6M353.8 216.32h1.6M396.7 216.32h1.6M454.4 216.32h1.6M245.3 214.45h1.6M297.6 214.45h1.6M353.3 214.45h1.6M397.2 214.45h1.6M459.2 214.45h1.6M243.4 212.58h1.6M295.4 212.58h1.6M352.2 212.58h1.6M397.8 212.58h1.6M458.8 212.58h1.6M242.4 210.71h1.6M299.2 210.71h1.6M352.4 210.71h1.6M396.1 210.71h1.6M462.4 210.71h1.6M244.2 208.84h1.6M305.4 208.84h1.6M355.9 208.84h1.6M398.0 208.84h1.6M462.2 208.84h1.6M241.1 206.97h1.6M293.0 206.97h1.6M353.4 206.97h1.6M398.9 206.97h1.6M467.1 206.97h1.6M251.1 205.10h1.6M293.4 205.10h1.6M356.4 205.10h1.6M400.0 205.10h1.6M468.6 205.10h1.6M250.4 203.23h1.6M312.4 203.23h1.6M356.4 203.23h1.6M396.8 203.23h1.6M463.4 203.23h1.6M247.2 201.36h1.6M314.4 201.36h1.6M357.4 201.36h1.6M398.1 201.36h1.6M463.4 201.36h1.6M254.2 199.49h1.6M316.4 199.49h1.6M343.7 199.49h1.6M400.2 199.49h1.6M465.9 199.49h1.6M255.1 197.62h1.6M318.4 197.62h1.6M363.4 197.62h1.6M406.8 197.62h1.6M464.6 197.62h1.6M261.0 195.75h1.6M320.4 195.75h1.6M366.4 195.75h1.6M377.4 195.75h1.6M468.2 195.75h1.6M261.0 193.88h1.6M321.9 193.88h1.6M368.4 193.88h1.6M409.4 193.88h1.6M469.1 193.88h1.6M266.9 192.01h1.6M323.4 192.01h1.6M362.4 192.01h1.6M417.5 192.01h1.6M471.3 192.01h1.6M281.0 190.14h1.6M325.4 190.14h1.6M371.4 190.14h1.6M420.7 190.14h1.6M477.8 190.14h1.6M268.6 188.27h1.6M325.7 188.27h1.6M360.2 188.27h1.6M420.8 188.27h1.6M477.6 188.27h1.6M268.6 186.40h1.6M326.4 186.40h1.6M343.7 186.40h1.6M422.3 186.40h1.6M474.0 186.40h1.6M271.4 184.53h1.6M315.7 184.53h1.6M379.4 184.53h1.6M421.7 184.53h1.6M472.0 184.53h1.6M276.3 182.66h1.6M320.4 182.66h1.6M382.0 182.66h1.6M422.6 182.66h1.6M473.3 182.66h1.6M270.4 180.79h1.6M343.4 180.79h1.6M426.9 180.79h1.6M476.4 180.79h1.6M270.4 178.92h1.6M426.2 178.92h1.6M476.8 178.92h1.6M276.9 177.05h1.6M426.9 177.05h1.6M474.9 177.05h1.6M283.0 175.18h1.6M427.1 175.18h1.6M476.9 175.18h1.6M282.2 173.31h1.6M426.1 173.31h1.6M477.6 173.31h1.6M279.9 171.44h1.6M427.2 171.44h1.6M478.8 171.44h1.6M280.4 169.57h1.6M426.1 169.57h1.6M483.9 169.57h1.6M279.4 167.70h1.6M429.6 167.70h1.6M479.7 167.70h1.6M286.4 165.83h1.6M429.5 165.83h1.6M480.6 165.83h1.6M283.4 163.96h1.6M431.1 163.96h1.6M484.1 163.96h1.6M290.4 162.09h1.6M431.4 162.09h1.6M487.0 162.09h1.6M433.2 160.22h1.6M493.8 160.22h1.6M438.6 158.35h1.6M492.2 158.35h1.6M444.1 156.48h1.6M496.1 156.48h1.6M447.2 154.61h1.6M494.9 154.61h1.6M446.7 152.74h1.6M497.8 152.74h1.6M446.4 150.87h1.6M498.1 150.87h1.6M446.2 149.00h1.6M499.7 149.00h1.6M501.7 147.13h1.6M499.3 145.26h1.6M497.2 143.39h1.6M500.4 141.52h1.6M497.4 139.65h1.6M499.3 137.78h1.6" stroke="#a83030" stroke-width="1.0" fill="none" opacity="0.6"/>
<rect x="213.40" y="133.50" width="292.30" height="94.60" fill="none" stroke="#808080" stroke-width="0.8"/>
<line x1="344.50" y1="133.50" x2="344.50" y2="228.10" stroke="#7a7a7a" stroke-width="0.6"/>
<line x1="211.20" y1="223.80" x2="213.40" y2="223.80" stroke="#555" stroke-width="0.6"/>
<text transform="translate(206.30,223.80) rotate(-90)" font-size="5.2" text-anchor="middle" font-weight="bold" font-style="normal" fill="#000">0</text>
<line x1="211.20" y1="205.10" x2="213.40" y2="205.10" stroke="#555" stroke-width="0.6"/>
<text transform="translate(206.30,205.10) rotate(-90)" font-size="5.2" text-anchor="middle" font-weight="bold" font-style="normal" fill="#000">10</text>
<line x1="211.20" y1="186.40" x2="213.40" y2="186.40" stroke="#555" stroke-width="0.6"/>
<text transform="translate(206.30,186.40) rotate(-90)" font-size="5.2" text-anchor="middle" font-weight="bold" font-style="normal" fill="#000">20</text>
<line x1="211.20" y1="167.70" x2="213.40" y2="167.70" stroke="#555" stroke-width="0.6"/>
<text transform="translate(206.30,167.70) rotate(-90)" font-size="5.2" text-anchor="middle" font-weight="bold" font-style="normal" fill="#000">30</text>
<line x1="211.20" y1="149.00" x2="213.40" y2="149.00" stroke="#555" stroke-width="0.6"/>
<text transform="translate(206.30,149.00) rotate(-90)" font-size="5.2" text-anchor="middle" font-weight="bold" font-style="normal" fill="#000">40</text>
<text transform="translate(198.30,184.80) rotate(-90)" font-size="6.2" text-anchor="middle" font-weight="normal" font-style="normal" fill="#333">Number of mate pairs</text>
<line x1="224.80" y1="228.10" x2="224.80" y2="231.00" stroke="#555" stroke-width="0.6"/>
<text x="224.80" y="240.80" font-size="5.2" text-anchor="middle" font-weight="bold" font-style="normal" fill="#000" textLength="19" lengthAdjust="spacingAndGlyphs">280000</text>
<line x1="269.60" y1="228.10" x2="269.60" y2="231.00" stroke="#555" stroke-width="0.6"/>
<text x="269.60" y="240.80" font-size="5.2" text-anchor="middle" font-weight="bold" font-style="normal" fill="#000" textLength="19" lengthAdjust="spacingAndGlyphs">285000</text>
<line x1="314.40" y1="228.10" x2="314.40" y2="231.00" stroke="#555" stroke-width="0.6"/>
<text x="314.40" y="240.80" font-size="5.2" text-anchor="middle" font-weight="bold" font-style="normal" fill="#000" textLength="19" lengthAdjust="spacingAndGlyphs">290000</text>
<line x1="359.20" y1="228.10" x2="359.20" y2="231.00" stroke="#555" stroke-width="0.6"/>
<text x="359.20" y="240.80" font-size="5.2" text-anchor="middle" font-weight="bold" font-style="normal" fill="#000" textLength="19" lengthAdjust="spacingAndGlyphs">295000</text>
<line x1="404.00" y1="228.10" x2="404.00" y2="231.00" stroke="#555" stroke-width="0.6"/>
<text x="404.00" y="240.80" font-size="5.2" text-anchor="middle" font-weight="bold" font-style="normal" fill="#000" textLength="19" lengthAdjust="spacingAndGlyphs">300000</text>
<line x1="448.80" y1="228.10" x2="448.80" y2="231.00" stroke="#555" stroke-width="0.6"/>
<text x="448.80" y="240.80" font-size="5.2" text-anchor="middle" font-weight="bold" font-style="normal" fill="#000" textLength="19" lengthAdjust="spacingAndGlyphs">305000</text>
<line x1="493.60" y1="228.10" x2="493.60" y2="231.00" stroke="#555" stroke-width="0.6"/>
<text x="493.60" y="240.80" font-size="5.2" text-anchor="middle" font-weight="bold" font-style="normal" fill="#000" textLength="19" lengthAdjust="spacingAndGlyphs">310000</text>
<text transform="translate(513.40,183.60) rotate(-90)" font-size="6.0" text-anchor="middle" font-weight="normal" font-style="normal" fill="#333">Chromosome location</text>
<text x="220.60" y="152.80" font-size="16.2" text-anchor="start" font-weight="normal" font-style="normal" fill="#111">6p25.3</text>
<circle cx="224.5" cy="200.4" r="1.1" fill="#1a1aa0"/>
<circle cx="362.5" cy="184" r="1.1" fill="#1a1aa0"/>
<circle cx="392.8" cy="222" r="1.1" fill="#1a1aa0"/>
<circle cx="402.5" cy="144.0" r="1.1" fill="#1a1aa0"/>
<circle cx="441.6" cy="170.5" r="1.1" fill="#1a1aa0"/>
<circle cx="475.3" cy="150.5" r="1.1" fill="#1a1aa0"/>
<circle cx="224.5" cy="200.4" r="3.5" fill="#c8c8f0" opacity="0.5"/>
<circle cx="224.5" cy="200.4" r="1.1" fill="#1a1aa0"/>
<rect x="235.8" y="184.9" width="1.4" height="1.2" fill="#b04040" opacity="0.7"/>
<rect x="232.5" y="188.7" width="1.4" height="1.2" fill="#b04040" opacity="0.7"/>
<rect x="230.1" y="192.4" width="1.4" height="1.2" fill="#b04040" opacity="0.7"/>
<rect x="228.9" y="196.1" width="1.4" height="1.2" fill="#b04040" opacity="0.7"/>
<rect x="237.7" y="182.0" width="1.4" height="1.2" fill="#b04040" opacity="0.7"/>
<rect x="226.2" y="203.4" width="1.4" height="1.2" fill="#b04040" opacity="0.7"/>
<rect x="227.8" y="207.4" width="1.4" height="1.2" fill="#b04040" opacity="0.7"/>
<rect x="224.6" y="214.6" width="1.4" height="1.2" fill="#b04040" opacity="0.7"/>
<text x="240.70" y="212.40" font-size="7.6" text-anchor="middle" font-weight="bold" font-style="normal" fill="#b02020">9</text>
<text x="292.20" y="206.20" font-size="6.8" text-anchor="middle" font-weight="bold" font-style="normal" fill="#b02020">2</text>
<text x="429.30" y="190.00" font-size="6.8" text-anchor="middle" font-weight="bold" font-style="normal" fill="#b02020">2</text>
<text x="464.30" y="216.80" font-size="6.8" text-anchor="middle" font-weight="bold" font-style="normal" fill="#b02020">14</text>
<text x="326.80" y="190.50" font-size="5" text-anchor="middle" font-weight="bold" font-style="normal" fill="#b0b040">1</text>
<text x="383.60" y="186.50" font-size="5" text-anchor="middle" font-weight="bold" font-style="normal" fill="#d08030">1</text>
<text x="0.30" y="254.00" font-size="14.6" text-anchor="start" font-weight="bold" font-style="normal" fill="#000">D</text>
<linearGradient id="gg1" x1="0" y1="0" x2="0" y2="1"><stop offset="0" stop-color="#444"/><stop offset="1" stop-color="#363636"/></linearGradient>
<rect x="11.00" y="260.90" width="91.20" height="66.90" fill="url(#gg1)" stroke="none" stroke-width="1"/>
<rect x="103.80" y="261.20" width="57.50" height="66.60" fill="#282828" stroke="none" stroke-width="1"/>
<filter id="gb" x="-50%" y="-10%" width="200%" height="120%"><feGaussianBlur stdDeviation="1.2"/></filter>
<clipPath id="cg2"><rect x="103.8" y="261.2" width="57.5" height="66.6"/></clipPath>
<g clip-path="url(#cg2)" filter="url(#gb)">
<rect x="119.50" y="258.00" width="10.00" height="72.00" fill="#2e2e2e" stroke="none" stroke-width="1"/>
<rect x="134.00" y="258.00" width="11.00" height="52.00" fill="#393939" stroke="none" stroke-width="1"/>
<rect x="148.00" y="258.00" width="11.50" height="60.00" fill="#484848" stroke="none" stroke-width="1"/>
<rect x="148.00" y="318.00" width="11.50" height="12.00" fill="#383838" stroke="none" stroke-width="1"/>
</g>
<rect x="12.60" y="264.55" width="8.00" height="1.30" fill="#e8e8e8" stroke="none" stroke-width="1" opacity="0.6" rx="0.6"/>
<rect x="12.60" y="266.45" width="8.00" height="1.30" fill="#e8e8e8" stroke="none" stroke-width="1" opacity="0.6" rx="0.6"/>
<rect x="12.60" y="268.55" width="8.00" height="1.30" fill="#e8e8e8" stroke="none" stroke-width="1" opacity="0.75" rx="0.6"/>
<rect x="12.60" y="270.95" width="8.00" height="1.30" fill="#e8e8e8" stroke="none" stroke-width="1" opacity="0.6" rx="0.6"/>
<rect x="12.60" y="273.35" width="8.00" height="1.30" fill="#e8e8e8" stroke="none" stroke-width="1" opacity="0.6" rx="0.6"/>
<rect x="12.60" y="276.85" width="8.00" height="1.30" fill="#e8e8e8" stroke="none" stroke-width="1" opacity="0.6" rx="0.6"/>
<rect x="12.60" y="282.10" width="8.00" height="2.20" fill="#e8e8e8" stroke="none" stroke-width="1" opacity="1" rx="0.6"/>
<rect x="12.60" y="290.55" width="8.00" height="1.30" fill="#e8e8e8" stroke="none" stroke-width="1" opacity="0.6" rx="0.6"/>
<rect x="12.60" y="297.25" width="8.00" height="1.30" fill="#e8e8e8" stroke="none" stroke-width="1" opacity="0.5" rx="0.6"/>
<rect x="12.60" y="307.15" width="8.00" height="1.30" fill="#e8e8e8" stroke="none" stroke-width="1" opacity="0.55" rx="0.6"/>
<rect x="12.60" y="321.25" width="8.00" height="1.30" fill="#e8e8e8" stroke="none" stroke-width="1" opacity="0.35" rx="0.6"/>
<rect x="106.20" y="264.50" width="9.80" height="1.60" fill="#f0f0f0" stroke="none" stroke-width="1" opacity="0.85" rx="0.6"/>
<rect x="106.20" y="266.60" width="9.80" height="1.60" fill="#f0f0f0" stroke="none" stroke-width="1" opacity="0.85" rx="0.6"/>
<rect x="106.20" y="270.20" width="9.80" height="1.60" fill="#f0f0f0" stroke="none" stroke-width="1" opacity="0.85" rx="0.6"/>
<rect x="106.20" y="272.90" width="9.80" height="1.60" fill="#f0f0f0" stroke="none" stroke-width="1" opacity="0.8" rx="0.6"/>
<rect x="106.20" y="276.40" width="9.80" height="1.60" fill="#f0f0f0" stroke="none" stroke-width="1" opacity="0.85" rx="0.6"/>
<rect x="106.20" y="281.40" width="9.80" height="2.20" fill="#f0f0f0" stroke="none" stroke-width="1" opacity="1" rx="0.6"/>
<rect x="106.20" y="290.30" width="9.80" height="2.20" fill="#f0f0f0" stroke="none" stroke-width="1" opacity="1" rx="0.6"/>
<rect x="106.20" y="296.80" width="9.80" height="1.60" fill="#f0f0f0" stroke="none" stroke-width="1" opacity="0.8" rx="0.6"/>
<rect x="106.20" y="306.60" width="9.80" height="1.60" fill="#f0f0f0" stroke="none" stroke-width="1" opacity="0.6" rx="0.6"/>
<rect x="106.20" y="320.80" width="9.80" height="1.60" fill="#f0f0f0" stroke="none" stroke-width="1" opacity="0.4" rx="0.6"/>
<rect x="24.00" y="302.10" width="11.00" height="4.20" fill="#9a9a9a" stroke="none" stroke-width="1" opacity="0.35" rx="0.6"/>
<rect x="25.00" y="302.90" width="9.00" height="2.60" fill="#fafafa" stroke="none" stroke-width="1" opacity="1" rx="0.6"/>
<rect x="37.60" y="301.30" width="10.90" height="4.20" fill="#9a9a9a" stroke="none" stroke-width="1" opacity="0.35" rx="0.6"/>
<rect x="38.60" y="302.10" width="8.90" height="2.60" fill="#fafafa" stroke="none" stroke-width="1" opacity="1" rx="0.6"/>
<rect x="50.70" y="299.80" width="10.60" height="4.20" fill="#9a9a9a" stroke="none" stroke-width="1" opacity="0.35" rx="0.6"/>
<rect x="51.70" y="300.60" width="8.60" height="2.60" fill="#fafafa" stroke="none" stroke-width="1" opacity="1" rx="0.6"/>
<rect x="64.60" y="297.90" width="10.40" height="3.60" fill="#9a9a9a" stroke="none" stroke-width="1" opacity="0.3" rx="0.6"/>
<rect x="65.60" y="298.60" width="8.40" height="2.20" fill="#e0e0e0" stroke="none" stroke-width="1" opacity="0.9" rx="0.6"/>
<rect x="79.30" y="290.40" width="7.40" height="1.60" fill="#808080" stroke="none" stroke-width="1" opacity="0.25" rx="0.6"/>
<rect x="92.00" y="290.50" width="7.40" height="1.80" fill="#a0a0a0" stroke="none" stroke-width="1" opacity="0.6" rx="0.6"/>
<rect x="133.80" y="303.20" width="11.40" height="7.40" fill="#a0a0a0" stroke="none" stroke-width="1" opacity="0.4" rx="0.6"/>
<rect x="134.60" y="304.00" width="9.80" height="5.80" fill="#ffffff" stroke="none" stroke-width="1" opacity="1" rx="0.6"/>
<rect x="148.80" y="286.90" width="9.50" height="3.00" fill="#f4f4f4" stroke="none" stroke-width="1" opacity="1" rx="0.6"/>
<rect x="120.00" y="311.10" width="9.70" height="3.00" fill="#444" stroke="none" stroke-width="1" opacity="0.5" rx="0.6"/>
<text x="5.20" y="265.80" font-size="4.2" text-anchor="middle" font-weight="bold" font-style="normal" fill="#222">kb</text>
<text x="5.20" y="283.80" font-size="4.2" text-anchor="middle" font-weight="bold" font-style="normal" fill="#222">3</text>
<text x="5.20" y="292.30" font-size="4.2" text-anchor="middle" font-weight="bold" font-style="normal" fill="#222">2</text>
<text x="5.20" y="298.60" font-size="4.2" text-anchor="middle" font-weight="bold" font-style="normal" fill="#222">1.5</text>
<text x="5.20" y="308.80" font-size="4.2" text-anchor="middle" font-weight="bold" font-style="normal" fill="#222">1</text>
<text x="5.20" y="322.30" font-size="4.2" text-anchor="middle" font-weight="bold" font-style="normal" fill="#222">0.5</text>
<text x="27.10" y="259.50" font-size="4.2" text-anchor="middle" font-weight="bold" font-style="normal" fill="#222">1</text>
<text x="41.30" y="259.50" font-size="4.2" text-anchor="middle" font-weight="bold" font-style="normal" fill="#222">2</text>
<text x="55.40" y="259.50" font-size="4.2" text-anchor="middle" font-weight="bold" font-style="normal" fill="#222">3</text>
<text x="68.10" y="259.50" font-size="4.2" text-anchor="middle" font-weight="bold" font-style="normal" fill="#222">4</text>
<text x="81.40" y="259.50" font-size="4.2" text-anchor="middle" font-weight="bold" font-style="normal" fill="#222">5</text>
<text x="95.20" y="259.50" font-size="4.2" text-anchor="middle" font-weight="bold" font-style="normal" fill="#222">6</text>
<text x="125.10" y="259.50" font-size="4.2" text-anchor="middle" font-weight="bold" font-style="normal" fill="#222">1</text>
<text x="139.20" y="259.50" font-size="4.2" text-anchor="middle" font-weight="bold" font-style="normal" fill="#222">2</text>
<text x="152.90" y="259.50" font-size="4.2" text-anchor="middle" font-weight="bold" font-style="normal" fill="#222">3</text>
<text x="58.20" y="334.20" font-size="4.2" text-anchor="middle" font-weight="bold" font-style="normal" fill="#222">der(6)</text>
<text x="135.00" y="333.70" font-size="4.2" text-anchor="middle" font-weight="bold" font-style="normal" fill="#222">der(7)</text>
<text x="171.00" y="252.60" font-size="14.6" text-anchor="start" font-weight="bold" font-style="normal" fill="#000">E</text>
<text x="185.7" y="259.80" font-size="4.6" font-weight="bold" fill="#222" style="font-family:'Liberation Mono', monospace" textLength="26.4" lengthAdjust="spacingAndGlyphs"><tspan font-style="italic">DUSP22</tspan>(+)</text>
<text x="218.90" y="259.80" font-size="5.6" font-weight="bold" fill="#111" style="font-family:'Liberation Mono', monospace" textLength="297.10" lengthAdjust="spacingAndGlyphs">ggtttcgaggaaaggattgacaagactttacaaagcccgcaacaaagacaagtaccttttttacgggtctttgaatggtcctggattagatgagtcgtct</text>
<text x="354.20" y="266.20" font-size="5.6" font-weight="bold" fill="#111" style="font-family:'Liberation Mono', monospace" textLength="161.80" lengthAdjust="spacingAndGlyphs">||||||||||||||||||||||||||||||||||||||||||||||||||||||</text>
<text x="185.7" y="272.30" font-size="4.6" font-weight="bold" fill="#222" style="font-family:'Liberation Mono', monospace" textLength="17.40" lengthAdjust="spacingAndGlyphs">der(6)</text>
<text x="218.90" y="272.30" font-size="5.6" font-weight="bold" fill="#111" style="font-family:'Liberation Mono', monospace" textLength="297.10" lengthAdjust="spacingAndGlyphs">ttagagcagggcctgggtggtcttgattttgtattttaggaaccagacaagtaccttttttacgggtctttgaatggtcctggattagatgagtcgtct</text>
<text x="218.90" y="277.60" font-size="5.6" font-weight="bold" fill="#111" style="font-family:'Liberation Mono', monospace" textLength="121.50" lengthAdjust="spacingAndGlyphs">|||||||||||||||||||||||||||||||||||||||||</text>
<text x="185.7" y="283.40" font-size="4.6" font-weight="bold" fill="#222" style="font-family:'Liberation Mono', monospace" textLength="26.10" lengthAdjust="spacingAndGlyphs">7q32.3(-)</text>
<text x="218.90" y="283.40" font-size="5.6" font-weight="bold" fill="#111" style="font-family:'Liberation Mono', monospace" textLength="297.10" lengthAdjust="spacingAndGlyphs">ttagagcagggcctgggtggtcttgattttgtattttaggtaggaccaagcacagcgtctgaaacacacagtaagcctttagtaattgtgaaagtgaa</text>
<line x1="286.20" y1="260.60" x2="386.50" y2="260.60" stroke="#222" stroke-width="0.45"/>
<text x="185.7" y="308.00" font-size="4.6" font-weight="bold" fill="#222" style="font-family:'Liberation Mono', monospace" textLength="26.4" lengthAdjust="spacingAndGlyphs"><tspan font-style="italic">DUSP22</tspan>(+)</text>
<text x="218.90" y="308.00" font-size="5.6" font-weight="bold" fill="#111" style="font-family:'Liberation Mono', monospace" textLength="297.10" lengthAdjust="spacingAndGlyphs">tgaaccacagggttaaggatttttgttacttggtacttggctggtttcgaggaaaggattgacaagactttacaaagcccgcaacaaagacaagtacctt</text>
<text x="218.90" y="314.40" font-size="5.6" font-weight="bold" fill="#111" style="font-family:'Liberation Mono', monospace" textLength="115.70" lengthAdjust="spacingAndGlyphs">|||||||||||||||||||||||||||||||||||||||</text>
<text x="185.7" y="320.30" font-size="4.6" font-weight="bold" fill="#222" style="font-family:'Liberation Mono', monospace" textLength="17.40" lengthAdjust="spacingAndGlyphs">der(7)</text>
<text x="218.90" y="320.30" font-size="5.6" font-weight="bold" fill="#111" style="font-family:'Liberation Mono', monospace" textLength="297.10" lengthAdjust="spacingAndGlyphs">tgaaccacagggttaaggatttttgttacttGGTACTTGGTCTTTGTTGCGGGCTTTGTAAAGTCactcgctctcagaattgaaaaaattgaaagaaatg</text>
<text x="393.50" y="327.00" font-size="5.6" font-weight="bold" fill="#111" style="font-family:'Liberation Mono', monospace" textLength="122.50" lengthAdjust="spacingAndGlyphs">|||||||||||||||||||||||||||||||||||||||||</text>
<text x="185.7" y="333.00" font-size="4.6" font-weight="bold" fill="#222" style="font-family:'Liberation Mono', monospace" textLength="26.10" lengthAdjust="spacingAndGlyphs">7q32.3(-)</text>
<text x="218.90" y="333.00" font-size="5.6" font-weight="bold" fill="#111" style="font-family:'Liberation Mono', monospace" textLength="297.10" lengthAdjust="spacingAndGlyphs">atagtgctttggaatttcttttcatactgcagtgatttttgtctttttgacttcaaagtcactcgctctcagaattgaaaaaattgaaagaaatg</text>
<line x1="411.00" y1="309.30" x2="515.50" y2="309.30" stroke="#222" stroke-width="0.45"/>
<text x="0.20" y="358.20" font-size="14.6" text-anchor="start" font-weight="bold" font-style="normal" fill="#000">F</text>
<text x="65.50" y="352.9" font-size="5.2" text-anchor="middle" fill="#333">6p25.3 BAP</text>
<text x="166.75" y="352.9" font-size="5.2" text-anchor="middle" fill="#333"><tspan font-style="italic">DUSP22</tspan> BAP</text>
<text x="270.65" y="352.9" font-size="5.2" text-anchor="middle" fill="#333"><tspan font-style="italic">IRF4</tspan> BAP</text>
<text x="373.25" y="352.9" font-size="5.2" text-anchor="middle" fill="#333">7q32.3 BAP</text>
<text x="471.00" y="352.9" font-size="5.2" text-anchor="middle" fill="#333">6p25.3/7q32.3 D-FISH</text>
<clipPath id="c0"><rect x="17.0" y="356.1" width="97.00" height="89.70"/></clipPath>
<clipPath id="c1"><rect x="118.5" y="356.1" width="96.50" height="89.70"/></clipPath>
<clipPath id="c2"><rect x="221.0" y="356.1" width="99.30" height="89.70"/></clipPath>
<clipPath id="c3"><rect x="325.0" y="356.1" width="96.50" height="89.70"/></clipPath>
<clipPath id="c4"><rect x="425.5" y="356.1" width="91.00" height="89.70"/></clipPath>
<rect x="17.0" y="356.1" width="97.00" height="89.70" fill="url(#g1)"/>
<rect x="118.5" y="356.1" width="96.50" height="89.70" fill="url(#g2)"/>
<rect x="221.0" y="356.1" width="99.30" height="89.70" fill="url(#g3)"/>
<g clip-path="url(#c2)"><ellipse cx="233.8" cy="398" rx="3.0" ry="14" fill="#3a8098" opacity="0.6" filter="url(#b3)"/><ellipse cx="318" cy="443" rx="8" ry="5" fill="#2a2aff" opacity="0.8" filter="url(#b3)"/></g>
<rect x="325.0" y="356.1" width="96.50" height="89.70" fill="#05070d"/>
<g clip-path="url(#c3)"><g filter="url(#b2)"><ellipse cx="370" cy="399" rx="43" ry="40" fill="#3260a2"/><ellipse cx="340" cy="372" rx="15" ry="16" fill="#24487e"/><ellipse cx="403" cy="449" rx="26" ry="12" fill="#3464a6"/><ellipse cx="326" cy="442" rx="7" ry="12" fill="#2e5c9e"/></g></g>
<rect x="425.5" y="356.1" width="91.00" height="89.70" fill="#05070d"/>
<g clip-path="url(#c4)"><g filter="url(#b2)"><ellipse cx="471" cy="405" rx="46" ry="49" fill="#3268ae"/><ellipse cx="458" cy="410" rx="22" ry="22" fill="#346eb6" opacity="0.6"/></g></g>
<circle cx="32.7" cy="387.4" r="1.1" fill="#50c0f0" opacity="1" filter="url(#b1)"/>
<circle cx="71" cy="390.5" r="2.2" fill="#e020c8" opacity="1" filter="url(#b1)"/>
<circle cx="73" cy="393.2" r="1.0" fill="#50e0f0" opacity="1" filter="url(#b1)"/>
<circle cx="73" cy="408.7" r="2.5" fill="#e020c8" opacity="1" filter="url(#b1)"/>
<line x1="29.2" y1="399.8" x2="32.1" y2="391.8" stroke="#f4f4ff" stroke-width="0.8"/>
<path d="M32.1 391.8 L32.43 393.97 L30.45 393.26Z" fill="#f4f4ff"/>
<line x1="68.9" y1="421.5" x2="71.4" y2="413.5" stroke="#f4f4ff" stroke-width="0.8"/>
<path d="M71.4 413.5 L71.83 415.66 L69.82 415.03Z" fill="#f4f4ff"/>
<circle cx="168.8" cy="386.4" r="0.9" fill="#a0e0ff" opacity="1" filter="url(#b1)"/>
<circle cx="185.3" cy="386" r="2.0" fill="#d030c0" opacity="0.8" filter="url(#b1)"/>
<circle cx="185.3" cy="386" r="1.1" fill="#ffc0f0" opacity="1" filter="url(#b1)"/>
<circle cx="136.3" cy="400.6" r="1.6" fill="#a040d0" opacity="0.75" filter="url(#b1)"/>
<ellipse cx="176.5" cy="413.5" rx="2.5" ry="1.4" transform="rotate(40 176.5 413.5)" fill="#c038c0" filter="url(#b1)"/>
<circle cx="269" cy="394.7" r="2.1" fill="#e030c8" opacity="1" filter="url(#b1)"/>
<circle cx="269.6" cy="394.4" r="1.0" fill="#ffffff" opacity="1" filter="url(#b1)"/>
<circle cx="289.5" cy="398.8" r="2.1" fill="#e030c8" opacity="1" filter="url(#b1)"/>
<circle cx="290.1" cy="398.5" r="1.0" fill="#ffffff" opacity="1" filter="url(#b1)"/>
<circle cx="257.6" cy="424.5" r="2.2" fill="#e020b0" opacity="1" filter="url(#b1)"/>
<circle cx="310.3" cy="437" r="0.7" fill="#a0c0ff" opacity="1" filter="url(#b1)"/>
<circle cx="379.4" cy="390.5" r="1.4" fill="#b0ffe0" opacity="1" filter="url(#b1)"/>
<circle cx="374.6" cy="418.7" r="1.7" fill="#e070d0" opacity="1" filter="url(#b1)"/>
<circle cx="341.8" cy="427" r="2.1" fill="#ff6040" opacity="1" filter="url(#b1)"/>
<circle cx="342.6" cy="426.2" r="1.2" fill="#ffff90" opacity="1" filter="url(#b1)"/>
<circle cx="505" cy="384.9" r="2.6" fill="#30f070" opacity="1" filter="url(#b1)"/>
<circle cx="460.2" cy="397.8" r="2.5" fill="#ff60d0" opacity="1" filter="url(#b1)"/>
<circle cx="460.8" cy="398.3" r="1.5" fill="#e0fff8" opacity="1" filter="url(#b1)"/>
<circle cx="455.6" cy="410.5" r="2.5" fill="#ff40b0" opacity="1" filter="url(#b1)"/>
<circle cx="457.8" cy="411.8" r="1.7" fill="#40f0c0" opacity="1" filter="url(#b1)"/>
<circle cx="507.5" cy="409.9" r="2.3" fill="#e04890" opacity="1" filter="url(#b1)"/>
<line x1="474" y1="409" x2="468.5" y2="403.2" stroke="#f4f4ff" stroke-width="0.8"/>
<path d="M468.5 403.2 L470.59 403.88 L469.06 405.33Z" fill="#f4f4ff"/>
<line x1="471" y1="423.8" x2="465.6" y2="418.8" stroke="#f4f4ff" stroke-width="0.8"/>
<path d="M465.6 418.8 L467.73 419.34 L466.30 420.89Z" fill="#f4f4ff"/>
</svg>
</body></html>
